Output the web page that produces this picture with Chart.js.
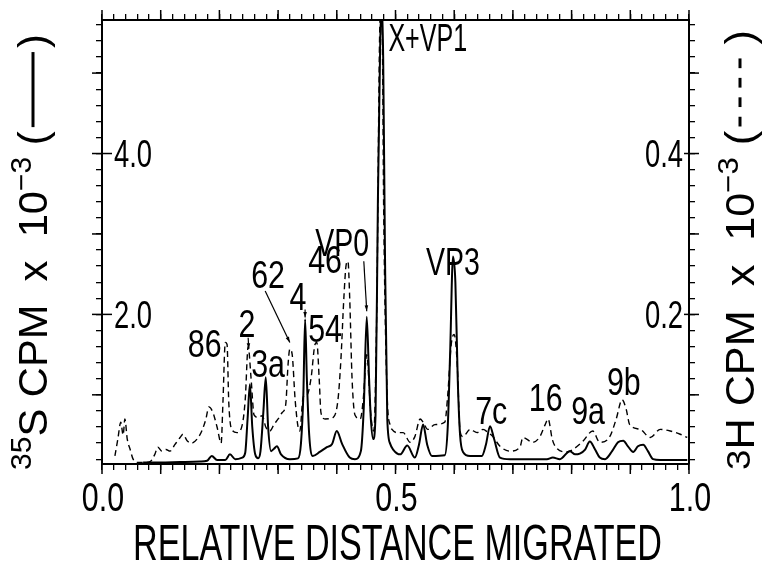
<!DOCTYPE html>
<html><head><meta charset="utf-8">
<script src="https://cdn.jsdelivr.net/npm/chart.js@4"></script>
<style>html,body{margin:0;padding:0;background:#fff}#wrap{width:768px;height:565px}</style>
</head><body><div id="wrap"><canvas id="c" width="768" height="565"></canvas></div>
<script>
// ---------- data ----------
// 35S CPM x 10^-3 (solid, left axis)
const solidX = [0.070,0.099,0.133,0.167,0.179,0.187,0.196,0.210,0.218,0.227,0.239,0.244,0.248,0.252,0.256,0.261,0.266,0.270,0.275,0.279,0.283,0.288,0.293,0.298,0.305,0.320,0.334,0.339,0.343,0.346,0.349,0.353,0.359,0.371,0.383,0.392,0.400,0.409,0.422,0.431,0.441,0.446,0.451,0.455,0.458,0.462,0.466,0.470,0.474,0.476,0.479,0.482,0.486,0.491,0.496,0.508,0.520,0.533,0.540,0.547,0.554,0.562,0.584,0.589,0.593,0.598,0.602,0.606,0.610,0.615,0.627,0.647,0.654,0.661,0.668,0.678,0.695,0.758,0.768,0.780,0.797,0.806,0.814,0.823,0.831,0.840,0.848,0.857,0.869,0.879,0.888,0.896,0.905,0.913,0.922,0.930,0.939,0.951,0.997];
const solidY = [0.16,0.16,0.165,0.17,0.18,0.24,0.19,0.19,0.26,0.20,0.22,0.28,0.70,1.13,0.60,0.26,0.21,0.30,0.80,1.22,0.60,0.30,0.33,0.36,0.26,0.20,0.21,0.40,1.00,1.94,1.20,0.50,0.24,0.29,0.35,0.39,0.55,0.39,0.22,0.20,0.30,0.85,1.97,1.20,0.70,0.45,0.75,3.40,5.40,5.80,5.20,2.80,0.70,0.39,0.32,0.26,0.37,0.22,0.38,0.63,0.38,0.24,0.25,0.60,1.50,2.72,2.40,1.20,0.50,0.29,0.24,0.24,0.38,0.61,0.45,0.22,0.20,0.20,0.22,0.20,0.30,0.26,0.27,0.32,0.42,0.32,0.22,0.20,0.30,0.41,0.43,0.36,0.29,0.36,0.38,0.30,0.20,0.19,0.19];
// 3H CPM x 10^-3 (dashed, right axis)
const dashX = [0.022,0.027,0.032,0.036,0.039,0.043,0.048,0.053,0.061,0.073,0.082,0.090,0.095,0.102,0.109,0.116,0.124,0.133,0.138,0.145,0.153,0.162,0.170,0.177,0.182,0.189,0.196,0.203,0.206,0.210,0.213,0.216,0.221,0.230,0.239,0.244,0.249,0.254,0.259,0.266,0.273,0.279,0.286,0.293,0.300,0.307,0.313,0.317,0.320,0.324,0.329,0.334,0.337,0.342,0.346,0.349,0.356,0.363,0.366,0.370,0.373,0.380,0.394,0.402,0.407,0.412,0.416,0.419,0.422,0.426,0.431,0.440,0.445,0.451,0.458,0.463,0.468,0.474,0.477,0.480,0.486,0.491,0.494,0.503,0.513,0.525,0.533,0.542,0.547,0.555,0.567,0.584,0.589,0.595,0.600,0.605,0.610,0.615,0.627,0.639,0.649,0.658,0.666,0.678,0.695,0.712,0.717,0.734,0.746,0.755,0.760,0.767,0.772,0.792,0.802,0.819,0.836,0.848,0.865,0.876,0.886,0.893,0.899,0.917,0.934,0.951,0.968,0.985,0.997];
const dashY = [0.024,0.045,0.066,0.050,0.070,0.045,0.032,0.020,0.016,0.016,0.017,0.026,0.035,0.030,0.032,0.030,0.038,0.047,0.051,0.043,0.040,0.045,0.055,0.070,0.085,0.078,0.060,0.040,0.090,0.165,0.163,0.090,0.057,0.053,0.063,0.094,0.160,0.120,0.075,0.072,0.074,0.060,0.055,0.063,0.070,0.078,0.088,0.138,0.157,0.150,0.094,0.060,0.055,0.094,0.100,0.100,0.120,0.163,0.165,0.120,0.078,0.070,0.072,0.094,0.144,0.220,0.262,0.266,0.220,0.120,0.075,0.070,0.094,0.150,0.075,0.055,0.200,0.570,0.570,0.320,0.095,0.062,0.057,0.053,0.053,0.041,0.048,0.070,0.066,0.057,0.063,0.066,0.100,0.163,0.175,0.140,0.055,0.048,0.057,0.053,0.057,0.053,0.048,0.036,0.030,0.035,0.047,0.041,0.048,0.063,0.070,0.045,0.036,0.029,0.032,0.042,0.055,0.041,0.048,0.070,0.094,0.082,0.063,0.057,0.047,0.057,0.055,0.051,0.047];
// tick labels
const xTickLabels = {"0":"0.0","0.5":"0.5","1":"1.0"};
const leftTickLabels = {"2":"2.0","4":"4.0"};
const rightTickLabels = {"0.2":"0.2","0.4":"0.4"};
// peak labels (position in x / left-axis units)
const peakText = ["X+VP1","VP0","VP3","86","2","3a","62","4","54","46","7c","16","9a","9b"];
const peakX = [0.555,0.409,0.598,0.175,0.247,0.283,0.283,0.334,0.380,0.380,0.663,0.756,0.828,0.889];
const peakY = [5.45,2.89,2.66,1.64,1.89,1.39,2.50,2.22,1.83,2.68,0.81,0.97,0.81,1.17];
// pointer lines (x1,y1 -> x2,y2 in data units)
const ptrX1 = [0.446,0.278,0.249,0.346];
const ptrY1 = [2.66,2.29,1.71,2.06];
const ptrX2 = [0.451,0.320,0.250,0.346];
const ptrY2 = [2.04,1.65,1.57,1.96];
const xTitle = "RELATIVE DISTANCE MIGRATED";

// ---------- rendering ----------
const FONT = "'Liberation Sans', 'DejaVu Sans', sans-serif";
function stepTicks(min, max, step){ const out=[]; const n=Math.round((max-min)/step); for(let i=0;i<=n;i++) out.push(+(min+i*step).toFixed(4)); return out; }
const xTickVals = stepTicks(0,1,0.02);
const xMajorVals = stepTicks(0,1,0.1);
const leftTickVals = stepTicks(0.2,5.6,0.2);
const leftMajorVals = [1,2,3,4,5];
const rightTickVals = stepTicks(0.02,0.56,0.02);
const rightMajorVals = [0.1,0.2,0.3,0.4,0.5];
const key = v => String(+v.toFixed(4));

// draws text pieces; (cx,cy) = anchor at cap-height middle
function drawRich(ctx, segs, cx, cy, size, rot, target, scaleX, align){
  const ws=[]; let total=0;
  for(const s of segs){
    let w;
    if(s.line){ w = s.len*size; }
    else { ctx.font = `${(s.k||1)*size}px ${FONT}`; w = ctx.measureText(s.t).width; }
    ws.push(w); total+=w;
  }
  const sx = target ? target/total : (scaleX||1);
  const cap = 0.72*size;
  ctx.save();
  ctx.translate(cx,cy); ctx.rotate(rot); ctx.scale(sx,1);
  ctx.fillStyle='#000'; ctx.strokeStyle='#000'; ctx.textBaseline='alphabetic'; ctx.textAlign='left';
  let x = align==='left' ? 0 : align==='right' ? -total : -total/2;
  segs.forEach((s,i)=>{
    if(s.line){
      ctx.save(); ctx.lineWidth = s.lw||3; ctx.setLineDash(s.dash||[]);
      ctx.beginPath(); ctx.moveTo(x+0.1*size, 0); ctx.lineTo(x+ws[i]-0.1*size, 0); ctx.stroke(); ctx.restore();
    } else {
      ctx.font = `${(s.k||1)*size}px ${FONT}`;
      ctx.fillText(s.t, x, cap/2 - (s.up||0)*size);
    }
    x+=ws[i];
  });
  ctx.restore();
}

const peakScale = [0.66,0.75,0.75,0.8,0.8,0.8,0.8,0.8,0.8,0.8,0.8,0.8,0.8,0.8];

const decor = {
  id:'decor',
  afterDraw(chart){
    const {ctx, chartArea:a} = chart;
    const sx = chart.scales.x, sy = chart.scales.y, sy2 = chart.scales.y2;
    ctx.save();
    ctx.strokeStyle='#000'; ctx.fillStyle='#000'; ctx.lineWidth=1.5;
    const ln=(x1,y1,x2,y2)=>{ctx.beginPath();ctx.moveTo(x1,y1);ctx.lineTo(x2,y2);ctx.stroke();};
    xMajorVals.forEach(v=>{ const p=sx.getPixelForValue(v); ln(p,a.bottom,p,a.bottom+10); ln(p,a.top,p,a.top-10); });
    leftMajorVals.forEach(v=>{ const p=sy.getPixelForValue(v); ln(a.left-10,p,a.left,p); });
    Object.keys(leftTickLabels).forEach(k=>{ const p=sy.getPixelForValue(+k); ln(a.left,p,a.left+10,p); });
    rightMajorVals.forEach(v=>{ const p=sy2.getPixelForValue(v); ln(a.right,p,a.right+10,p); });
    Object.keys(rightTickLabels).forEach(k=>{ const p=sy2.getPixelForValue(+k); ln(a.right-5,p,a.right,p); });
    // tick labels (from the scales' own tick values)
    sx.ticks.forEach(t=>{ const s=xTickLabels[key(t.value)]; if(s) drawRich(ctx,[{t:s}],sx.getPixelForValue(t.value)+1,497,40,0,null,0.76,'center'); });
    sy.ticks.forEach(t=>{ const s=leftTickLabels[key(t.value)]; if(s) drawRich(ctx,[{t:s}],a.left+12,sy.getPixelForValue(t.value),38,0,null,0.72,'left'); });
    sy2.ticks.forEach(t=>{ const s=rightTickLabels[key(t.value)]; if(s) drawRich(ctx,[{t:s}],a.right-6,sy2.getPixelForValue(t.value),38,0,null,0.72,'right'); });
    // pointer lines
    ctx.lineWidth=1.2;
    ptrX1.forEach((v,i)=>{
      const x1=sx.getPixelForValue(v), y1=sy.getPixelForValue(ptrY1[i]);
      const x2=sx.getPixelForValue(ptrX2[i]), y2=sy.getPixelForValue(ptrY2[i]);
      ln(x1,y1,x2,y2);
      const ang=Math.atan2(y2-y1,x2-x1);
      ctx.beginPath(); ctx.moveTo(x2,y2);
      ctx.lineTo(x2-6*Math.cos(ang-0.3),y2-6*Math.sin(ang-0.3));
      ctx.lineTo(x2-6*Math.cos(ang+0.3),y2-6*Math.sin(ang+0.3)); ctx.closePath(); ctx.fill();
    });
    // peak labels
    peakText.forEach((t,i)=>{
      const px=sx.getPixelForValue(peakX[i]), py=sy.getPixelForValue(peakY[i]);
      drawRich(ctx,[{t}],px,py,38,0,null,peakScale[i]);
    });
    ctx.restore();
    // x title
    ctx.save();
    drawRich(ctx,[{t:xTitle}],(a.left+a.right)/2+2,542,50,0,529);
    // left title
    drawRich(ctx,[{t:'35',k:0.72,up:0.42},{t:'S CPM  x  10',k:1},{t:'\u22123',k:0.72,up:0.42},{t:' (',k:1},{line:true,len:2.0,lw:3},{t:')',k:1}],33,252,40,-Math.PI/2,436);
    // right title
    drawRich(ctx,[{t:'3',k:0.85,up:0.1},{t:'H CPM  x  10',k:1},{t:'\u22123',k:0.72,up:0.42},{t:' (',k:1},{line:true,len:2.0,lw:3,dash:[9,9]},{t:')',k:1}],740,250,40,-Math.PI/2,440);
    ctx.restore();
  }
};

const ctx = document.getElementById('c').getContext('2d');
const axisCommon = {
  border:{display:true,color:'#000',width:2},
  grid:{drawOnChartArea:false,drawTicks:true,tickLength:6,color:'#000',tickColor:'#000',lineWidth:1.3}
};
const noPad = s => { s.paddingTop=0; s.paddingBottom=0; s.paddingLeft=0; s.paddingRight=0; };
new Chart(ctx,{
  type:'line',
  data:{datasets:[
    {label:'35S', data: solidX.map((x,i)=>({x,y:solidY[i]})), yAxisID:'y', xAxisID:'x',
     borderColor:'#000', borderWidth:2, pointRadius:0, fill:false, cubicInterpolationMode:'monotone'},
    {label:'3H', data: dashX.map((x,i)=>({x,y:dashY[i]})), yAxisID:'y2', xAxisID:'x',
     borderColor:'#000', borderWidth:1.4, borderDash:[6,4], pointRadius:0, fill:false, cubicInterpolationMode:'monotone'}
  ]},
  options:{
    responsive:false, animation:false, devicePixelRatio:1,
    layout:{padding:0},
    plugins:{legend:{display:false},tooltip:{enabled:false},title:{display:false}},
    scales:{
      x:{type:'linear',position:'bottom',min:0,max:1,...axisCommon,
         afterBuildTicks:s=>{s.ticks=xTickVals.map(v=>({value:v}));},
         afterFit:s=>{s.height=101;noPad(s);},
         ticks:{display:false,autoSkip:false,callback:v=>xTickLabels[key(v)]||''}},
      xTop:{type:'linear',position:'top',min:0,max:1,...axisCommon,
         afterBuildTicks:s=>{s.ticks=xTickVals.map(v=>({value:v}));},
         afterFit:s=>{s.height=20;noPad(s);},
         ticks:{display:false}},
      y:{type:'linear',position:'left',min:0.14,max:5.66,...axisCommon,
         afterBuildTicks:s=>{s.ticks=leftTickVals.map(v=>({value:v}));},
         afterFit:s=>{s.width=102;noPad(s);},
         ticks:{display:false,autoSkip:false,callback:v=>leftTickLabels[key(v)]||''}},
      y2:{type:'linear',position:'right',min:0.014,max:0.566,...axisCommon,
         afterBuildTicks:s=>{s.ticks=rightTickVals.map(v=>({value:v}));},
         afterFit:s=>{s.width=79;noPad(s);},
         ticks:{display:false,autoSkip:false,callback:v=>rightTickLabels[key(v)]||''}}
    }
  },
  plugins:[decor]
});
</script></body></html>
